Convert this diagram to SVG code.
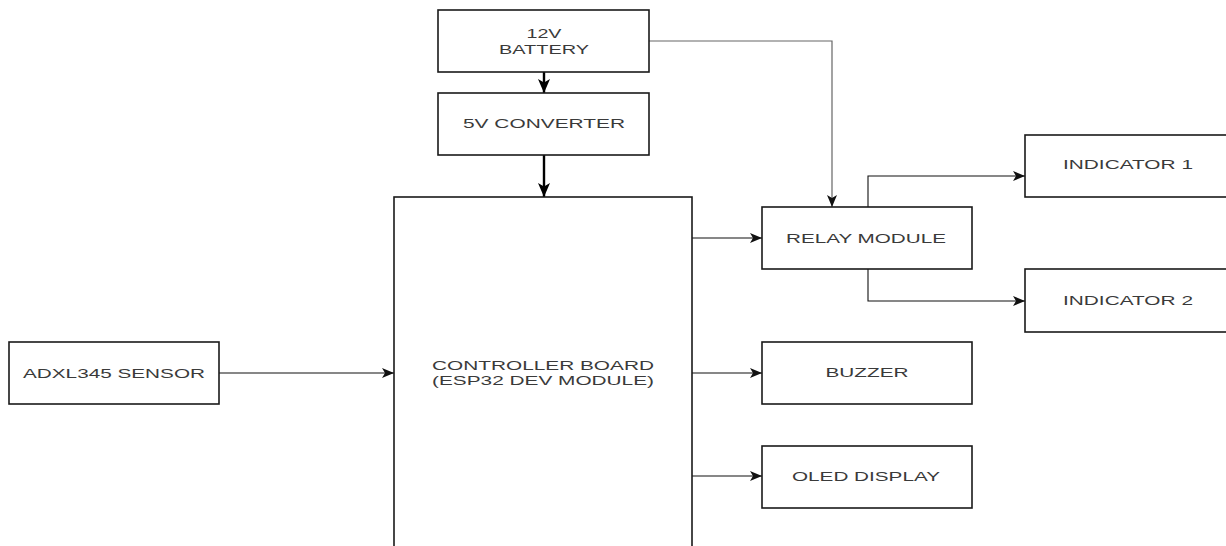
<svg xmlns="http://www.w3.org/2000/svg" width="1226" height="546" viewBox="0 0 1226 546">
<defs>
<style>
.box{fill:#fff;stroke:#1a1a1a;stroke-width:1.6}
.lbl{font-family:"Liberation Sans",Arial,sans-serif;font-size:13px;fill:#3a3a3a;text-anchor:middle}
.thin{fill:none;stroke:#111;stroke-width:1.1}
.gray{fill:none;stroke:#666;stroke-width:1.2}
.thick{fill:none;stroke:#000;stroke-width:2.4}
</style>
<marker id="ah" viewBox="0 0 12 10" refX="12" refY="5" markerWidth="12" markerHeight="10" markerUnits="userSpaceOnUse" orient="auto">
<path d="M0,0 L12,5 L0,10 L3,5 Z" fill="#111"/>
</marker>
<marker id="ahb" viewBox="0 0 14 12" refX="14" refY="6" markerWidth="14" markerHeight="12" markerUnits="userSpaceOnUse" orient="auto">
<path d="M0,0 L14,6 L0,12 L3.5,6 Z" fill="#000"/>
</marker>
</defs>
<rect width="1226" height="546" fill="#fff"/>
<g id="connectors">
<path class="thick" d="M544,72 V93" marker-end="url(#ahb)"/>
<path class="thick" d="M544,155 V197" marker-end="url(#ahb)"/>
<path class="gray" d="M649,41 H832 V207" marker-end="url(#ah)"/>
<path class="thin" d="M219,373 H394" marker-end="url(#ah)"/>
<path class="thin" d="M692,238 H762" marker-end="url(#ah)"/>
<path class="thin" d="M692,373 H762" marker-end="url(#ah)"/>
<path class="thin" d="M692,476 H762" marker-end="url(#ah)" stroke-width="1.6"/>
<path class="thin" d="M868,207 V176 H1025" marker-end="url(#ah)"/>
<path class="thin" d="M868,269 V301 H1025" marker-end="url(#ah)"/>
</g>
<g id="battery">
<rect class="box" x="438" y="10" width="211" height="62"/>
<text class="lbl" x="544" y="38" textLength="35" lengthAdjust="spacingAndGlyphs">12V</text>
<text class="lbl" x="544" y="54" textLength="90" lengthAdjust="spacingAndGlyphs">BATTERY</text>
</g>
<g id="converter">
<rect class="box" x="438" y="93" width="211" height="62"/>
<text class="lbl" x="544" y="128" textLength="162" lengthAdjust="spacingAndGlyphs">5V CONVERTER</text>
</g>
<g id="controller">
<rect class="box" x="394" y="197" width="298" height="370"/>
<text class="lbl" x="543" y="370" textLength="222" lengthAdjust="spacingAndGlyphs">CONTROLLER BOARD</text>
<text class="lbl" x="543" y="385" textLength="222" lengthAdjust="spacingAndGlyphs">(ESP32 DEV MODULE)</text>
</g>
<g id="sensor">
<rect class="box" x="9" y="342" width="210" height="62"/>
<text class="lbl" x="114" y="378" textLength="182" lengthAdjust="spacingAndGlyphs">ADXL345 SENSOR</text>
</g>
<g id="relay">
<rect class="box" x="762" y="207" width="210" height="62"/>
<text class="lbl" x="866" y="243" textLength="160" lengthAdjust="spacingAndGlyphs">RELAY MODULE</text>
</g>
<g id="indicator1">
<rect class="box" x="1025" y="135" width="220" height="62"/>
<text class="lbl" x="1128" y="169" textLength="130" lengthAdjust="spacingAndGlyphs">INDICATOR 1</text>
</g>
<g id="indicator2">
<rect class="box" x="1025" y="269" width="220" height="63"/>
<text class="lbl" x="1128" y="305" textLength="130" lengthAdjust="spacingAndGlyphs">INDICATOR 2</text>
</g>
<g id="buzzer">
<rect class="box" x="762" y="342" width="210" height="62"/>
<text class="lbl" x="867" y="377" textLength="83" lengthAdjust="spacingAndGlyphs">BUZZER</text>
</g>
<g id="oled">
<rect class="box" x="762" y="446" width="210" height="62"/>
<text class="lbl" x="866" y="481" textLength="148" lengthAdjust="spacingAndGlyphs">OLED DISPLAY</text>
</g>
</svg>
